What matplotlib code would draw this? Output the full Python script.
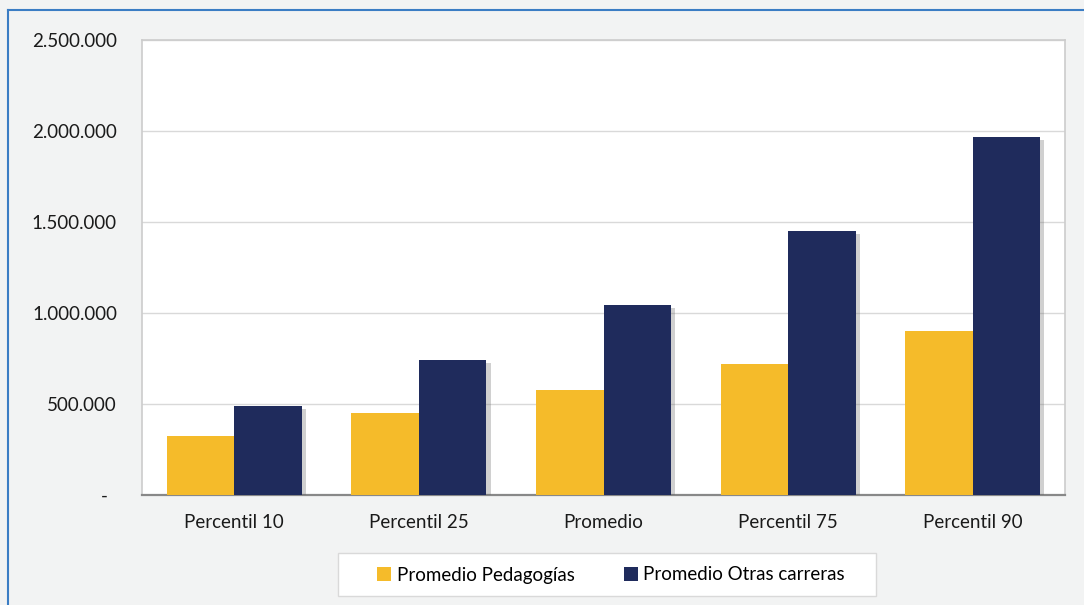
import numpy as np
import matplotlib
matplotlib.use("Agg")
import matplotlib.pyplot as plt
import matplotlib.patheffects as pe
from matplotlib.lines import Line2D
from matplotlib.patches import Rectangle
from matplotlib.ticker import FuncFormatter

# ── data ──────────────────────────────────────────────────────────────────────
categories   = ["Percentil 10", "Percentil 25", "Promedio", "Percentil 75", "Percentil 90"]
pedagogias   = [325000, 450000, 577000, 720000, 901000]
otras        = [490000, 742000, 1044000, 1451000, 1967000]
series_names = ["Promedio Pedagogías", "Promedio Otras carreras"]

YELLOW = "#f5bb2a"
NAVY   = "#1f2b5c"
BG     = "#f2f3f3"
W, H   = 1084, 605

plt.rcParams["font.family"] = ["Lato", "DejaVu Sans"]

fig = plt.figure(figsize=(W / 100, H / 100), dpi=100, facecolor=BG)
ax = fig.add_axes([142 / W, 1 - 495 / H, (1065 - 142) / W, (495 - 40) / H])
ax.set_facecolor("white")

x = np.arange(len(categories))
w = 0.366
shadow = [pe.SimplePatchShadow(offset=(3, -2), shadow_rgbFace="#666666", alpha=0.3), pe.Normal()]
b1 = ax.bar(x - w / 2, pedagogias, w, color=YELLOW, zorder=3, label=series_names[0])
b2 = ax.bar(x + w / 2, otras, w, color=NAVY, zorder=3, label=series_names[1])
for p in list(b1) + list(b2):
    p.set_path_effects(shadow)

ax.set_xlim(-0.5, len(categories) - 0.5)
ax.set_ylim(0, 2500000)
ax.set_yticks(np.arange(0, 2500001, 500000))
ax.yaxis.set_major_formatter(FuncFormatter(
    lambda v, _: "-  " if v == 0 else f"{int(v):,}".replace(",", ".")))
ax.set_xticks(x)
ax.set_xticklabels(categories)
ax.tick_params(axis="both", length=0, labelsize=13.5, colors="#1a1a1a")
ax.tick_params(axis="y", pad=18)
ax.tick_params(axis="x", pad=14)
ax.grid(axis="y", color="#d9d9d9", lw=1, zorder=0)
for s in ["left", "top", "right"]:
    ax.spines[s].set_color("#cccccc")
    ax.spines[s].set_linewidth(1.2)
ax.spines["bottom"].set_color("#888888")
ax.spines["bottom"].set_linewidth(1.6)

# legend box drawn separately so its size matches the original
fig.add_artist(Rectangle((338 / W, 1 - 596 / H), (876 - 338) / W, (596 - 553) / H,
                         transform=fig.transFigure, facecolor="white",
                         edgecolor="#d9d9d9", lw=1))
leg = fig.legend(handles=[b1, b2], labels=series_names, ncol=2,
                 loc="center", bbox_to_anchor=(611 / W, 1 - 575 / H),
                 fontsize=13.5, frameon=False,
                 handlelength=0.75, handleheight=0.75, handletextpad=0.3,
                 columnspacing=2.6)
for h in leg.legend_handles:
    h.set_path_effects([])

# blue frame on the outer border
fig.add_artist(Line2D([8 / W, 8 / W], [0, 1 - 10 / H], color="#3b7dc4", lw=1.5))
fig.add_artist(Line2D([8 / W, 1], [1 - 10 / H, 1 - 10 / H], color="#3b7dc4", lw=1.5))

fig.savefig("out.png", dpi=100, facecolor=BG)
